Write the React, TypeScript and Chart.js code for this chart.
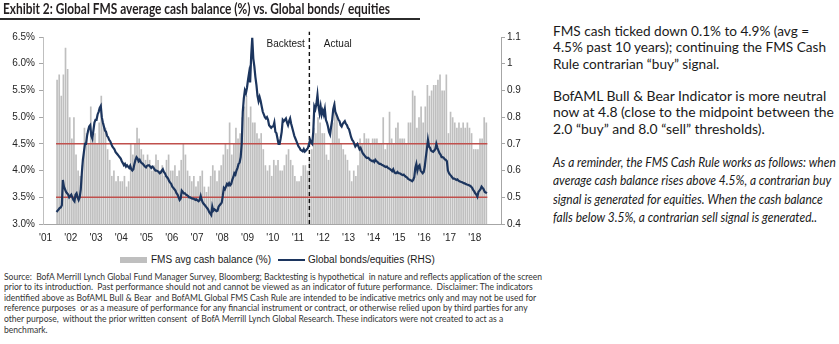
import React, { useEffect, useLayoutEffect, useRef, useState } from "react";
import { Chart, registerables } from "chart.js";

Chart.register(...registerables);

// ---------------- data ----------------
const firstYear = 2001;
const firstMonthIndex = 5; // June 2001 = first monthly observation

// FMS average cash balance (%), monthly
const cash2001 = [5.7, 5.8, 5.4, 5.8, 6.3, 5.9, 5.0];
const cash2002 = [4.6, 5.0, 4.3, 4.0, 3.9, 4.1, 4.8, 4.7, 4.5, 5.2, 4.6, 4.7];
const cash2003 = [4.5, 4.9, 5.4, 4.9, 4.8, 4.4, 4.2, 3.9, 4.0, 3.8, 3.9, 3.8];
const cash2004 = [3.8, 3.9, 3.7, 3.8, 4.5, 4.3, 4.5, 4.8, 4.6, 4.4, 4.3, 4.2];
const cash2005 = [4.3, 4.2, 4.0, 4.1, 4.3, 4.2, 4.0, 4.1, 3.9, 4.2, 4.3, 4.0];
const cash2006 = [4.0, 4.1, 3.9, 4.0, 4.2, 4.5, 4.3, 4.0, 3.9, 3.8, 3.9, 3.7];
const cash2007 = [3.8, 3.9, 4.0, 3.7, 3.6, 3.7, 3.9, 4.1, 4.0, 3.8, 4.0, 4.1];
const cash2008 = [4.3, 4.5, 4.4, 4.9, 4.3, 4.5, 4.8, 4.6, 4.7, 5.0, 5.2, 5.4];
const cash2009 = [5.0, 5.2, 4.9, 4.9, 4.7, 4.6, 4.7, 4.4, 4.1, 4.0, 4.1, 3.9];
const cash2010 = [4.2, 4.1, 4.2, 4.0, 4.0, 4.1, 4.3, 4.4, 4.2, 4.1, 3.9, 3.8];
const cash2011 = [3.8, 3.9, 4.1, 4.1, 4.0, 4.2, 4.4, 4.8, 4.7, 5.0, 4.9, 4.7];
const cash2012 = [4.7, 4.3, 4.2, 4.5, 4.9, 5.3, 5.0, 4.6, 4.5, 4.4, 4.3, 4.2];
const cash2013 = [4.0, 3.8, 4.0, 3.9, 4.1, 4.6, 4.5, 4.7, 4.6, 4.6, 4.5, 4.6];
const cash2014 = [4.6, 4.6, 4.5, 4.5, 5.0, 4.4, 4.5, 5.1, 4.6, 4.5, 4.8, 4.9];
const cash2015 = [4.6, 4.6, 4.6, 4.5, 4.9, 4.9, 5.5, 5.4, 4.8, 5.0, 5.2, 4.9];
const cash2016 = [5.2, 5.6, 5.4, 5.5, 5.6, 5.6, 5.7, 5.8, 5.5, 5.5, 5.8, 4.7];
const cash2017 = [5.1, 5.0, 4.9, 4.8, 4.9, 4.8, 4.9, 4.8, 4.9, 4.8, 4.7, 4.4];
const cash2018 = [4.4, 4.4, 4.6, 4.6, 5.0, 4.9];
const cashSeries = [
  cash2001, cash2002, cash2003, cash2004, cash2005, cash2006, cash2007, cash2008, cash2009,
  cash2010, cash2011, cash2012, cash2013, cash2014, cash2015, cash2016, cash2017, cash2018,
];

// Global bonds/equities ratio (RHS), two readings per month
const ratio2001 = [0.445, 0.45, 0.455, 0.46, 0.462, 0.47, 0.565, 0.54, 0.53, 0.52, 0.515, 0.51, 0.5, 0.505];
const ratio2002 = [0.51, 0.5, 0.49, 0.485, 0.51, 0.515, 0.5, 0.49, 0.5, 0.53, 0.59, 0.64, 0.67, 0.7, 0.7, 0.73, 0.75, 0.765, 0.77, 0.73, 0.72, 0.75, 0.78, 0.79];
const ratio2003 = [0.79, 0.81, 0.82, 0.835, 0.842, 0.8, 0.78, 0.765, 0.75, 0.745, 0.73, 0.725, 0.715, 0.71, 0.7, 0.69, 0.685, 0.68, 0.67, 0.665, 0.66, 0.655, 0.65, 0.645];
const ratio2004 = [0.635, 0.628, 0.62, 0.625, 0.615, 0.62, 0.615, 0.61, 0.618, 0.605, 0.6, 0.605, 0.625, 0.64, 0.65, 0.645, 0.635, 0.64, 0.632, 0.628, 0.625, 0.62, 0.615, 0.612];
const ratio2005 = [0.618, 0.62, 0.62, 0.615, 0.61, 0.615, 0.612, 0.605, 0.6, 0.6, 0.598, 0.595, 0.59, 0.592, 0.6, 0.605, 0.595, 0.59, 0.58, 0.575, 0.57, 0.56, 0.555, 0.55];
const ratio2006 = [0.54, 0.535, 0.53, 0.525, 0.515, 0.51, 0.5, 0.49, 0.495, 0.525, 0.52, 0.515, 0.515, 0.51, 0.508, 0.505, 0.5, 0.5, 0.497, 0.495, 0.495, 0.493, 0.49, 0.492];
const ratio2007 = [0.488, 0.485, 0.49, 0.505, 0.49, 0.48, 0.475, 0.47, 0.465, 0.46, 0.455, 0.445, 0.44, 0.434, 0.465, 0.45, 0.455, 0.452, 0.448, 0.45, 0.465, 0.47, 0.475, 0.48];
const ratio2008 = [0.505, 0.535, 0.53, 0.54, 0.55, 0.545, 0.553, 0.545, 0.55, 0.565, 0.575, 0.59, 0.585, 0.6, 0.61, 0.625, 0.63, 0.65, 0.7, 0.82, 0.87, 0.9, 0.89, 0.91];
const ratio2009 = [0.94, 0.965, 0.93, 1.03, 1.097, 1.02, 0.99, 0.95, 0.92, 0.88, 0.86, 0.875, 0.86, 0.84, 0.82, 0.81, 0.8, 0.795, 0.8, 0.79, 0.77, 0.765, 0.76, 0.765];
const ratio2010 = [0.765, 0.78, 0.745, 0.74, 0.72, 0.7, 0.7, 0.72, 0.745, 0.79, 0.785, 0.79, 0.795, 0.78, 0.77, 0.785, 0.795, 0.775, 0.76, 0.745, 0.73, 0.72, 0.71, 0.7];
const ratio2011 = [0.69, 0.685, 0.677, 0.675, 0.672, 0.68, 0.671, 0.675, 0.68, 0.685, 0.7, 0.715, 0.705, 0.7, 0.745, 0.84, 0.83, 0.85, 0.883, 0.84, 0.815, 0.84, 0.81, 0.825];
const ratio2012 = [0.81, 0.83, 0.79, 0.78, 0.765, 0.745, 0.735, 0.765, 0.79, 0.83, 0.846, 0.82, 0.81, 0.8, 0.79, 0.785, 0.77, 0.765, 0.775, 0.78, 0.785, 0.775, 0.77, 0.76];
const ratio2013 = [0.755, 0.74, 0.725, 0.715, 0.71, 0.7, 0.69, 0.695, 0.7, 0.69, 0.68, 0.685, 0.675, 0.665, 0.66, 0.655, 0.65, 0.647, 0.648, 0.645, 0.64, 0.638, 0.635, 0.637];
const ratio2014 = [0.632, 0.64, 0.635, 0.633, 0.628, 0.625, 0.625, 0.622, 0.62, 0.618, 0.615, 0.613, 0.615, 0.61, 0.608, 0.605, 0.602, 0.598, 0.605, 0.595, 0.59, 0.59, 0.595, 0.59];
const ratio2015 = [0.59, 0.588, 0.585, 0.583, 0.585, 0.58, 0.577, 0.575, 0.57, 0.567, 0.565, 0.563, 0.56, 0.565, 0.575, 0.61, 0.625, 0.6, 0.615, 0.62, 0.6, 0.595, 0.59, 0.595];
const ratio2016 = [0.615, 0.65, 0.68, 0.715, 0.69, 0.685, 0.675, 0.672, 0.67, 0.675, 0.68, 0.7, 0.685, 0.675, 0.665, 0.66, 0.65, 0.65, 0.648, 0.642, 0.64, 0.635, 0.6, 0.59];
const ratio2017 = [0.585, 0.58, 0.575, 0.57, 0.57, 0.568, 0.565, 0.567, 0.562, 0.56, 0.558, 0.557, 0.555, 0.553, 0.552, 0.55, 0.548, 0.547, 0.545, 0.543, 0.54, 0.535, 0.528, 0.522];
const ratio2018 = [0.515, 0.51, 0.502, 0.52, 0.525, 0.53, 0.54, 0.535, 0.53, 0.52, 0.518, 0.515];
const ratioSeries = [
  ratio2001, ratio2002, ratio2003, ratio2004, ratio2005, ratio2006, ratio2007, ratio2008, ratio2009,
  ratio2010, ratio2011, ratio2012, ratio2013, ratio2014, ratio2015, ratio2016, ratio2017, ratio2018,
];

const yearTicks = [2001, 2002, 2003, 2004, 2005, 2006, 2007, 2008, 2009, 2010, 2011, 2012, 2013, 2014, 2015, 2016, 2017, 2018];
const yearTickLabels = ["'01", "'02", "'03", "'04", "'05", "'06", "'07", "'08", "'09", "'10", "'11", "'12", "'13", "'14", "'15", "'16", "'17", "'18"];
const cashTicks = [3.0, 3.5, 4.0, 4.5, 5.0, 5.5, 6.0, 6.5];
const ratioTicks = [0.4, 0.5, 0.6, 0.7, 0.8, 0.9, 1.0, 1.1];
const buyLevel = 4.5;
const sellLevel = 3.5;
const regimeSplit = 2011.45;
const regimeLabels = ["Backtest", "Actual"];
const seriesLabels = ["FMS avg cash balance (%)", "Global bonds/equities (RHS)"];

const titleText = "Exhibit 2: Global FMS average cash balance (%) vs. Global bonds/ equities";
const commentaryA = [
  "FMS cash ticked down 0.1% to 4.9% (avg =",
  "4.5% past 10 years); continuing the FMS Cash",
  "Rule contrarian \u201cbuy\u201d signal.",
];
const commentaryB = [
  "BofAML Bull & Bear Indicator is more neutral",
  "now at 4.8 (close to the midpoint between the",
  "2.0 \u201cbuy\u201d and 8.0 \u201csell\u201d thresholds).",
];
const ruleText = [
  "As a reminder, the FMS Cash Rule works as follows: when",
  "average cash balance rises above 4.5%, a contrarian buy",
  "signal is generated for equities. When the cash balance",
  "falls below 3.5%, a contrarian sell signal is generated..",
];
const sourceText = [
  "Source:  BofA Merrill Lynch Global Fund Manager Survey, Bloomberg; Backtesting is hypothetical  in nature and reflects application of the screen",
  "prior to its introduction.  Past performance should not and cannot be viewed as an indicator of future performance.  Disclaimer: The indicators",
  "identified above as BofAML Bull & Bear  and BofAML Global FMS Cash Rule are intended to be indicative metrics only and may not be used for",
  "reference purposes  or as a measure of performance for any financial instrument or contract, or otherwise relied upon by third parties for any",
  "other purpose,  without the prior written consent  of BofA Merrill Lynch Global Research. These indicators were not created to act as a",
  "benchmark.",
];

// ---------------- derived points ----------------
const cashValues = cashSeries.flat();
const cashPoints = cashValues.map((v, i) => ({ x: firstYear + (firstMonthIndex + i + 0.5) / 12, y: v }));
const ratioValues = ratioSeries.flat();
const ratioPoints = ratioValues.map((v, i) => ({ x: firstYear + (firstMonthIndex + (i + 0.5) / 2) / 12, y: v }));
const spanStart = firstYear + firstMonthIndex / 12;
const spanEnd = firstYear + (firstMonthIndex + cashValues.length) / 12;

const AXIS_FONT = '"Liberation Sans", Arial, Helvetica, sans-serif';
const TEXT_FONT = 'Lato, "Open Sans", "Noto Sans", sans-serif';

// ---------------- text block (one common horizontal scale per block) ----------------
type BlockProps = {
  lines: string[];
  widths: number[];
  left: number;
  baseline: number;
  pitch: number;
  size: number;
  weight?: number;
  italic?: boolean;
  color?: string;
  font?: string;
};

function TextBlock({ lines, widths, left, baseline, pitch, size, weight = 400, italic = false, color = "#1a1a1a", font = TEXT_FONT }: BlockProps) {
  const refs = useRef<(HTMLDivElement | null)[]>([]);
  const [sx, setSx] = useState(1);
  useLayoutEffect(() => {
    const measure = () => {
      let nat = 0;
      let tgt = 0;
      refs.current.forEach((el, i) => {
        if (el && widths[i]) {
          nat += el.offsetWidth;
          tgt += widths[i];
        }
      });
      if (nat > 0) setSx(tgt / nat);
    };
    measure();
    const fonts = (document as any).fonts;
    if (fonts && fonts.ready) fonts.ready.then(measure);
  }, [lines, widths, size]);
  return (
    <>
      {lines.map((t, i) => (
        <div
          key={i}
          ref={(el) => {
            refs.current[i] = el;
          }}
          style={{
            position: "absolute",
            left,
            top: baseline + i * pitch - 0.987 * size,
            fontFamily: font,
            fontSize: size,
            lineHeight: `${1.2 * size}px`,
            fontWeight: weight,
            fontStyle: italic ? "italic" : "normal",
            color,
            whiteSpace: "pre",
            transform: `scaleX(${sx})`,
            transformOrigin: "0 0",
          }}
        >
          {t}
        </div>
      ))}
    </>
  );
}

// ---------------- chart ----------------
const regimePlugin = {
  id: "regimeLabels",
  afterDatasetsDraw(chart: any) {
    const x = chart.scales.x.getPixelForValue(regimeSplit);
    const ctx = chart.ctx;
    ctx.save();
    ctx.font = `10px ${AXIS_FONT}`;
    ctx.fillStyle = "#1a1a1a";
    ctx.textBaseline = "middle";
    const y = chart.chartArea.top + 7;
    ctx.textAlign = "right";
    ctx.fillText(regimeLabels[0], x - 4.5, y);
    ctx.textAlign = "left";
    ctx.fillText(regimeLabels[1], x + 14.5, y);
    ctx.restore();
  },
};

function CashChart() {
  const ref = useRef<HTMLCanvasElement>(null);
  useEffect(() => {
    if (!ref.current) return;
    const tickFont = { family: AXIS_FONT, size: 10 };
    const chart = new Chart(ref.current, {
      type: "bar",
      data: {
        datasets: [
          {
            type: "line",
            label: seriesLabels[1],
            data: ratioPoints,
            yAxisID: "y2",
            borderColor: "#1c355e",
            borderWidth: 2.2,
            pointRadius: 0,
            tension: 0,
            order: 0,
          } as any,
          {
            type: "line",
            label: "split",
            data: [
              { x: regimeSplit, y: 3.0 },
              { x: regimeSplit, y: 6.6 },
            ],
            yAxisID: "y",
            borderColor: "#111111",
            borderWidth: 1.4,
            borderDash: [4, 3],
            pointRadius: 0,
            clip: false,
            order: 1,
          } as any,
          {
            type: "line",
            label: "buy",
            data: [
              { x: spanStart, y: buyLevel },
              { x: spanEnd, y: buyLevel },
            ],
            yAxisID: "y",
            borderColor: "#c0504d",
            borderWidth: 1.5,
            pointRadius: 0,
            order: 2,
          } as any,
          {
            type: "line",
            label: "sell",
            data: [
              { x: spanStart, y: sellLevel },
              { x: spanEnd, y: sellLevel },
            ],
            yAxisID: "y",
            borderColor: "#c0504d",
            borderWidth: 1.5,
            pointRadius: 0,
            order: 2,
          } as any,
          {
            type: "bar",
            label: seriesLabels[0],
            data: cashPoints,
            yAxisID: "y",
            backgroundColor: "#bfbfbf",
            borderWidth: 0,
            barPercentage: 0.8,
            categoryPercentage: 1,
            order: 4,
          } as any,
        ],
      },
      options: {
        animation: false,
        responsive: false,
        maintainAspectRatio: false,
        devicePixelRatio: 1,
        layout: { padding: { left: 0, right: 4, top: 37, bottom: 6 } },
        plugins: {
          legend: { display: false },
          tooltip: { enabled: false },
          title: { display: false },
        },
        scales: {
          x: {
            type: "linear",
            min: 2000.9,
            max: 2019.04,
            offset: false,
            grid: { display: false, drawTicks: false },
            border: { display: true, color: "#a6a6a6", width: 1 },
            afterBuildTicks: (s: any) => {
              s.ticks = yearTicks.map((v) => ({ value: v }));
            },
            afterFit: (s: any) => {
              s.height = 20;
            },
            ticks: {
              autoSkip: false,
              maxRotation: 0,
              padding: 8,
              font: tickFont,
              color: "#262626",
              callback: (v: any) => {
                const i = yearTicks.indexOf(Number(v));
                return i >= 0 ? yearTickLabels[i] : "";
              },
            },
          },
          y: {
            type: "linear",
            position: "left",
            min: 3.0,
            max: 6.5,
            grid: { drawOnChartArea: false, drawTicks: true, tickLength: 4, color: "#a6a6a6" },
            border: { display: true, color: "#bfbfbf", width: 1 },
            afterBuildTicks: (s: any) => {
              s.ticks = cashTicks.map((v) => ({ value: v }));
            },
            afterFit: (s: any) => {
              s.width = 43;
            },
            ticks: {
              padding: 4,
              font: tickFont,
              color: "#262626",
              callback: (v: any) => Number(v).toFixed(1) + "%",
            },
          },
          y2: {
            type: "linear",
            position: "right",
            min: 0.4,
            max: 1.1,
            grid: { drawOnChartArea: false, drawTicks: true, tickLength: 4, color: "#a6a6a6" },
            border: { display: true, color: "#a6a6a6", width: 1 },
            afterBuildTicks: (s: any) => {
              s.ticks = ratioTicks.map((v) => ({ value: v }));
            },
            afterFit: (s: any) => {
              s.width = 40;
            },
            ticks: {
              padding: 2,
              font: tickFont,
              color: "#262626",
              callback: (v: any) => String(Number(Number(v).toFixed(1))),
            },
          },
        },
      } as any,
      plugins: [regimePlugin],
    });
    return () => chart.destroy();
  }, []);
  return (
    <canvas
      ref={ref}
      width={545}
      height={250}
      style={{ position: "absolute", left: 0, top: 0, width: 545, height: 250 }}
    />
  );
}

// ---------------- layout ----------------
const titleWidths = [387];
const commentaryWidthsA = [276.6, 280, 139];
const commentaryWidthsB = [274.7, 280, 210.7];
const ruleWidths = [282.3, 277.3, 270.7, 264.7];
const sourceWidths = [532.5, 528.5, 531, 530.5, 500.5];

export default function App() {
  return (
    <div
      style={{
        position: "absolute",
        left: 0,
        top: 0,
        width: 839,
        height: 344,
        background: "#ffffff",
        overflow: "hidden",
      }}
    >
      <CashChart />

      {/* title */}
      <TextBlock lines={[titleText]} widths={titleWidths} left={3} baseline={13.5} pitch={0} size={15} weight={700} color="#231f20" />
      <div style={{ position: "absolute", left: 0, top: 18, width: 420, height: 2, background: "#2b2b2b" }} />

      {/* legend */}
      <div style={{ position: "absolute", left: 120, top: 257, width: 27, height: 6, background: "#bfbfbf" }} />
      <div
        style={{
          position: "absolute",
          left: 151,
          top: 254,
          font: `10px ${AXIS_FONT}`,
          lineHeight: "12px",
          color: "#1a1a1a",
          whiteSpace: "pre",
        }}
      >
        {seriesLabels[0]}
      </div>
      <div style={{ position: "absolute", left: 278, top: 259, width: 27, height: 2, background: "#1c355e" }} />
      <div
        style={{
          position: "absolute",
          left: 308,
          top: 254,
          font: `10px ${AXIS_FONT}`,
          lineHeight: "12px",
          color: "#1a1a1a",
          whiteSpace: "pre",
        }}
      >
        {seriesLabels[1]}
      </div>

      {/* commentary */}
      <TextBlock lines={commentaryA} widths={commentaryWidthsA} left={553} baseline={36.7} pitch={16.6} size={14} />
      <TextBlock lines={commentaryB} widths={commentaryWidthsB} left={553} baseline={101.5} pitch={16.6} size={14} />
      <TextBlock lines={ruleText} widths={ruleWidths} left={553} baseline={167.3} pitch={18.5} size={12.5} italic />

      {/* source */}
      <TextBlock lines={sourceText} widths={sourceWidths} left={3.5} baseline={280.5} pitch={10.55} size={8.8} color="#333333" />
    </div>
  );
}
